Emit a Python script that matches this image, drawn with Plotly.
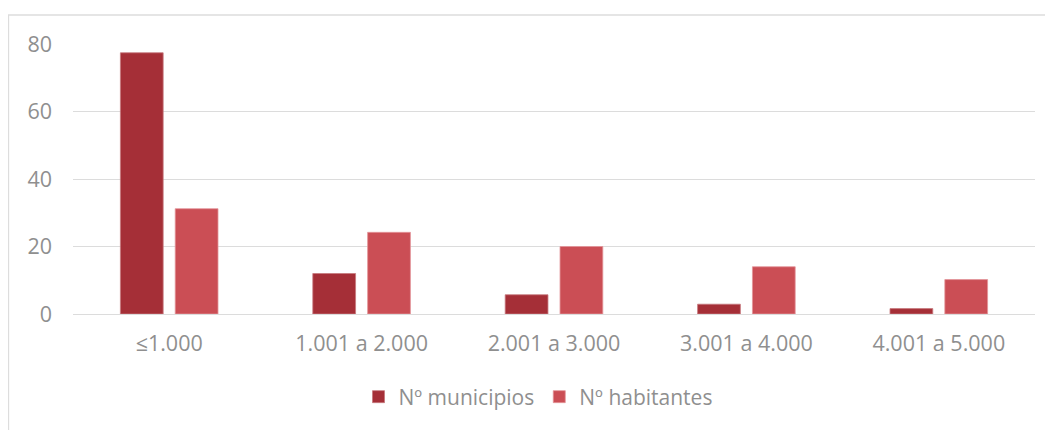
import plotly.graph_objects as go

categories = ["≤1.000", "1.001 a 2.000", "2.001 a 3.000", "3.001 a 4.000", "4.001 a 5.000"]
municipios = [77.4, 12.0, 5.7, 2.9, 1.6]
habitantes = [31.2, 24.2, 20.0, 14.0, 10.2]
series_names = ["Nº municipios", "Nº habitantes"]
y_ticks = [0, 20, 40, 60, 80]

dark = "#A52F37"
light = "#CB4E55"
grey_txt = "#8F8F8F"
font_family = "Open Sans"
fs = 21.5

fig = go.Figure()
fig.add_trace(go.Bar(x=categories, y=municipios, name=series_names[0],
                     marker=dict(color=dark, line=dict(color="#C7787D", width=0.8))))
fig.add_trace(go.Bar(x=categories, y=habitantes, name=series_names[1],
                     marker=dict(color=light, line=dict(color="#E39499", width=0.8))))

W, H = 1053, 430
OFF = 8  # page body margin
L, R, T, B = 73 - OFF, 26, 44 - OFF, 124
pw = W - L - R
ph = H - T - B

def px(x):
    return (x - OFF - L) / pw

def py(y):
    return (T + ph - (y - OFF)) / ph

fig.update_layout(
    width=W, height=H,
    margin=dict(l=L, r=R, t=T, b=B),
    paper_bgcolor="white", plot_bgcolor="white",
    barmode="group", bargap=0.43, bargroupgap=0.22,
    font=dict(family=font_family, size=fs, color=grey_txt),
    showlegend=True,
    legend=dict(orientation="h", x=px(538), xanchor="center",
                y=py(397), yanchor="middle",
                font=dict(family=font_family, size=21, color=grey_txt),
                itemwidth=30, traceorder="normal", bgcolor="rgba(0,0,0,0)"),
    xaxis=dict(showline=False, showgrid=False, ticks="", zeroline=False,
               ticklabelstandoff=14,
               tickfont=dict(family=font_family, size=fs, color=grey_txt)),
    yaxis=dict(range=[0, 80], tickvals=y_ticks, showgrid=True, gridcolor="#DCDCDC",
               gridwidth=1.3, zeroline=True, zerolinecolor="#DCDCDC", zerolinewidth=1.3,
               showline=False, ticks="", ticklabelstandoff=20,
               tickfont=dict(family=font_family, size=fs, color=grey_txt)),
    shapes=[
        dict(type="line", xref="paper", yref="paper",
             x0=px(8), x1=px(W + 20),
             y0=py(15), y1=py(15),
             line=dict(color="#DDDDDD", width=1.3)),
        dict(type="line", xref="paper", yref="paper",
             x0=px(8.5), x1=px(8.5),
             y0=py(15), y1=py(H + 20),
             line=dict(color="#DDDDDD", width=1.3)),
    ],
)

fig.write_html("out.html")
